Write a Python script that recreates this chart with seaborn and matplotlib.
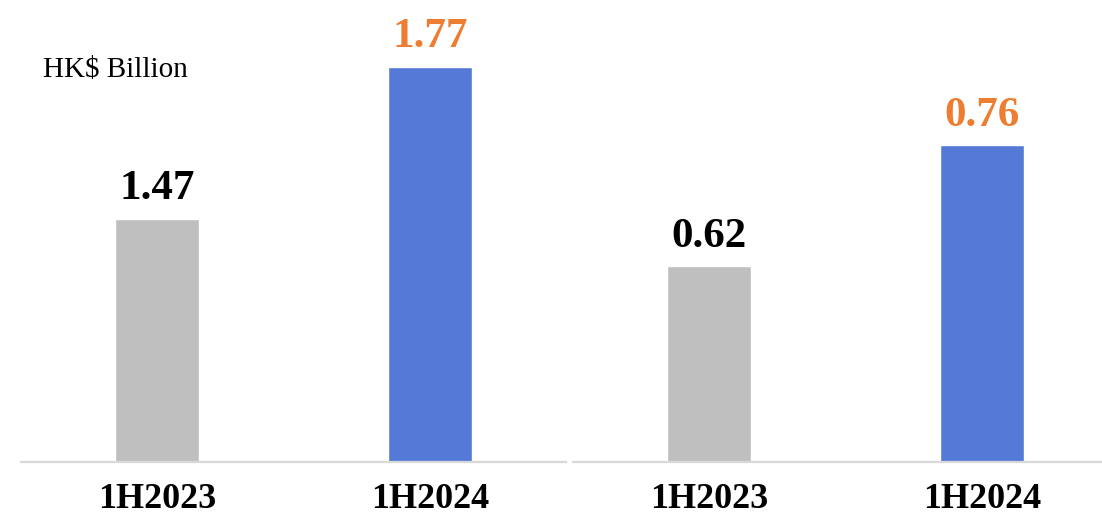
import matplotlib
matplotlib.use("Agg")
import matplotlib.pyplot as plt
import seaborn as sns
import pandas as pd

periods = ["1H2023", "1H2024"]
left_values = [1.47, 1.77]
right_values = [0.62, 0.76]
unit_label = "HK$ Billion"

bar_colors = {"1H2023": "#BFBFBF", "1H2024": "#5579D6"}
label_colors = ["#000000", "#ED7D31"]

sns.set_theme(style="white")
plt.rcParams["font.family"] = ["Liberation Serif", "DejaVu Serif"]

fig = plt.figure(figsize=(11.02, 5.19), dpi=100)
W, H = 1102, 519
ax_left = fig.add_axes([21 / W, 57 / H, 545 / W, 462 / H])
ax_right = fig.add_axes([573 / W, 57 / H, 545 / W, 462 / H])


def draw_panel(ax, values, ylim):
    df = pd.DataFrame({"period": periods, "value": values})
    sns.barplot(data=df, x="period", y="value", hue="period", palette=bar_colors,
                width=0.31, legend=False, ax=ax, saturation=1)
    ax.set_xlim(-0.5, 1.5)
    ax.set_ylim(*ylim)
    for i, (v, c) in enumerate(zip(values, label_colors)):
        ax.annotate(f"{v:.2f}", xy=(i, v), xytext=(0, 14), textcoords="offset points",
                    ha="center", va="baseline", fontsize=31, fontweight="bold", color=c)
    for side in ("top", "left", "right"):
        ax.spines[side].set_visible(False)
    ax.spines["bottom"].set_color("#D9D9D9")
    ax.spines["bottom"].set_linewidth(1.6)
    ax.set_xlabel("")
    ax.set_ylabel("")
    ax.set_yticks([])
    ax.tick_params(axis="x", length=0, pad=15, colors="#000000")
    for lbl in ax.get_xticklabels():
        lbl.set_fontsize(26)
        lbl.set_fontweight("bold")
        lbl.set_color("#000000")
        lbl.set_verticalalignment("top")


draw_panel(ax_left, left_values, (0.99, 1.902))
draw_panel(ax_right, right_values, (0.393, 0.928))

fig.text(43 / W, 1 - 70 / H, unit_label, fontsize=21, ha="left", va="center", color="#000000")

fig.savefig("out.png", dpi=100)
